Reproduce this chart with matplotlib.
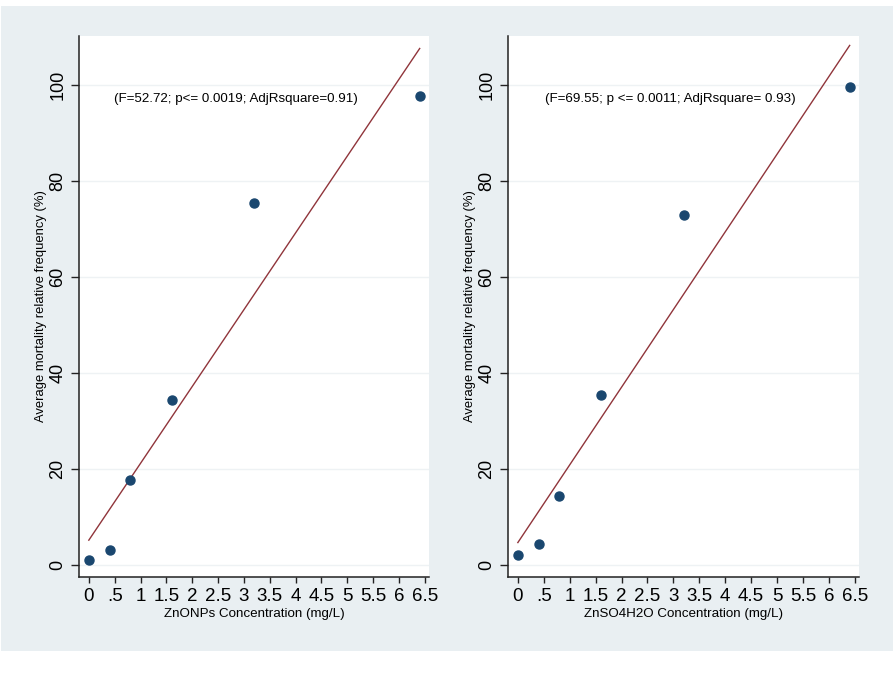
import numpy as np
import matplotlib
matplotlib.use("Agg")
import matplotlib.pyplot as plt
from matplotlib.patches import Rectangle

plt.rcParams['font.family'] = ['Liberation Sans', 'DejaVu Sans']

# data
conc = [0, 0.4, 0.8, 1.6, 3.2, 6.4]
mort_znonps = [1.0, 3.2, 17.7, 34.4, 75.5, 97.7]
mort_znso4 = [2.1, 4.3, 14.3, 35.4, 73.0, 99.6]

xlabels = ['ZnONPs Concentration (mg/L)', 'ZnSO4H2O Concentration (mg/L)']
notes = ['(F=52.72; p<= 0.0019; AdjRsquare=0.91)',
         '(F=69.55; p <= 0.0011; AdjRsquare= 0.93)']
ylabel = 'Average mortality relative frequency (%)'

xticks = np.arange(0, 6.51, 0.5)
xticklabels = ['0', '.5', '1', '1.5', '2', '2.5', '3', '3.5', '4', '4.5',
               '5', '5.5', '6', '6.5']
yticks = [0, 20, 40, 60, 80, 100]

BG = '#e9eff2'
NAVY = '#1a476f'
MAROON = '#90353b'
GRID = '#eef2f4'

fig = plt.figure(figsize=(8.93, 6.78), dpi=100)
fig.patches.append(Rectangle((1 / 893, 1 - 651 / 678), 892 / 893, 645 / 678,
                             transform=fig.transFigure, facecolor=BG,
                             edgecolor='none', zorder=-10))

positions = [[79 / 893, 1 - 577 / 678, 350 / 893, 541 / 678],
             [508 / 893, 1 - 577 / 678, 351 / 893, 541 / 678]]

for pos, ys, xl, note in zip(positions, [mort_znonps, mort_znso4], xlabels, notes):
    ax = fig.add_axes(pos)
    ax.set_facecolor('white')
    ax.set_xlim(-0.19, 6.58)
    ax.set_ylim(-2.5, 110.2)

    ax.set_yticks(yticks)
    ax.yaxis.grid(True, color=GRID, linewidth=1.0)
    ax.set_axisbelow(True)

    slope, intercept = np.polyfit(conc, ys, 1)
    xs = np.array([min(conc), max(conc)])
    ax.plot(xs, intercept + slope * xs, color=MAROON, linewidth=1.0, zorder=2)
    ax.plot(conc, ys, 'o', color=NAVY, markersize=6.5, zorder=3)

    ax.text(0.48 if pos[0] < 0.5 else 0.52, 97.0, note, fontsize=9.6,
            va='center', ha='left')

    ax.set_xticks(xticks)
    ax.set_xticklabels(xticklabels)
    for s in ['top', 'right']:
        ax.spines[s].set_visible(False)
    for s in ['left', 'bottom']:
        ax.spines[s].set_color('#222222')
        ax.spines[s].set_linewidth(1.1)
    ax.tick_params(axis='x', length=4, width=1.0, color='#222222',
                   labelsize=13.5, pad=4)
    ax.tick_params(axis='y', length=6, width=1.0, color='#222222',
                   labelsize=13, pad=3, labelrotation=90)
    for lab in ax.get_yticklabels():
        lab.set_va('center')

    ax.set_xlabel(xl, fontsize=9.6, labelpad=2)
    ax.set_ylabel(ylabel, fontsize=9.4, labelpad=2)

fig.savefig('out.png', dpi=100, facecolor='white')
